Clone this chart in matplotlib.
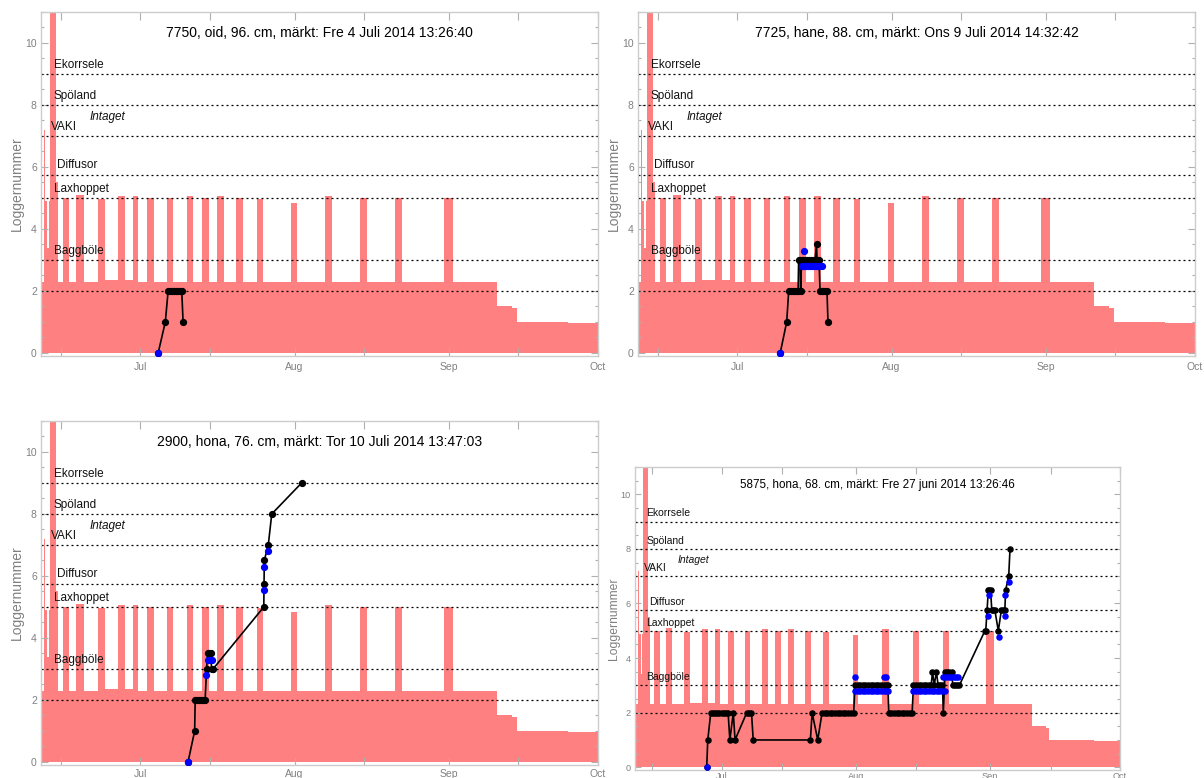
import matplotlib
matplotlib.use("Agg")
import matplotlib.pyplot as plt
import matplotlib.dates as mdates
import numpy as np
import pandas as pd

plt.rcParams['font.family'] = ['Liberation Sans', 'DejaVu Sans']

# all times are days counted from 1 July 2014 00:00
T0 = pd.Timestamp('2014-07-01')

# water level / flow record (step series: value holds from each time to the next)
flow_day = [-20.0, -19.3, -19.1, -18.7, -18.3, -18.1, -16.9, -16.5, -15.5, -14.3,
            -12.9, -11.4, -8.6, -7.2, -4.6, -3.2, -1.6, -0.4, 1.4, 2.8,
            5.4, 6.6, 9.4, 10.6, 12.4, 13.7, 15.3, 16.7, 19.3, 20.7,
            23.5, 24.7, 30.3, 31.5, 37.1, 38.6, 44.2, 45.6, 51.2, 52.6,
            61.0, 62.9, 71.7, 74.8, 75.7, 86.0, 92.0]
flow_val = [2.3, 7.2, 4.9, 3.4, 4.9, 14.0, 5.5, 2.3, 5.0, 2.3,
            5.1, 2.3, 4.95, 2.35, 5.05, 2.35, 5.05, 2.3, 5.0, 2.3,
            5.0, 2.3, 5.05, 2.3, 5.0, 2.3, 5.05, 2.3, 5.0, 2.3,
            4.95, 2.3, 4.85, 2.3, 5.05, 2.3, 5.0, 2.3, 5.0, 2.3,
            5.0, 2.3, 1.5, 1.45, 1.0, 0.98, 0.98]

# logger stations along the river
station_names = ['Baggböle', 'Laxhoppet', 'Diffusor', 'VAKI', 'Spöland', 'Ekorrsele']
station_levels = [3, 5, 5.75, 7, 8, 9]
ref_levels = [2, 3, 5, 5.75, 7, 8, 9]

# fish 7750
title_7750 = '7750, oid, 96. cm, märkt: Fre 4 Juli 2014 13:26:40'
day_7750 = [3.56, 5.0, 5.56, 5.9, 6.3, 6.7, 7.1, 7.5, 7.9, 8.3, 8.57]
log_7750 = [0, 1, 2, 2, 2, 2, 2, 2, 2, 2, 1]
blue_day_7750 = [3.56]
blue_log_7750 = [0]

# fish 7725
title_7725 = '7725, hane, 88. cm, märkt: Ons 9 Juli 2014 14:32:42'
day_7725 = [8.6, 9.9, 10.3, 10.7, 11.1, 11.5, 11.9, 12.2, 12.3, 12.6, 12.7, 12.9,
            13.2, 13.6, 14.0, 14.4, 14.8, 15.2, 15.6, 15.9, 16.0, 16.4, 16.6, 16.9,
            17.2, 17.6, 18.0, 18.2]
log_7725 = [0, 1, 2, 2, 2, 2, 2, 2, 3, 3, 2, 3,
            3, 3, 3, 3, 3, 3, 3, 3.5, 3, 3, 2, 2,
            2, 2, 2, 1]
blue_day_7725 = [8.6, 13.4, 13.0, 13.4, 13.8, 14.2, 14.6, 15.0, 15.4, 15.8, 16.2, 16.6, 16.9]
blue_log_7725 = [0, 3.3, 2.8, 2.8, 2.8, 2.8, 2.8, 2.8, 2.8, 2.8, 2.8, 2.8, 2.8]

# fish 2900
title_2900 = '2900, hona, 76. cm, märkt: Tor 10 Juli 2014 13:47:03'
day_2900 = [9.57, 10.9, 11.0, 11.4, 11.8, 12.2, 12.6, 13.0, 13.3, 13.5, 13.8, 14.1,
            14.3, 14.6, 24.8, 24.85, 24.9, 25.7, 26.4, 32.4]
log_2900 = [0, 1, 2, 2, 2, 2, 2, 2, 3, 3.5, 3.5, 3.5,
            3, 3, 5, 5.75, 6.5, 7, 8, 9]
blue_day_2900 = [9.57, 13.2, 13.5, 14.0, 14.4, 24.85, 24.85, 25.6]
blue_log_2900 = [0, 2.8, 3.3, 3.3, 3.3, 5.55, 6.3, 6.8]

# fish 5875
title_5875 = '5875, hona, 68. cm, märkt: Fre 27 juni 2014 13:26:46'
day_5875 = [-3.44, -3.2, -2.5, -2.0, -1.5, -1.0, -0.5, 0.0, 0.5, 1.0, 1.5,
            1.9, 2.7, 3.1, 5.8, 6.3, 6.9, 7.3, 20.5, 20.9, 22.2, 23.2,
            23.8, 24.4, 25.0, 25.6, 26.2, 26.8, 27.4, 28.0, 28.6, 29.2, 29.8, 30.5,
            30.8, 31.4, 32.0, 32.6, 33.2, 33.8, 34.4, 35.0, 35.6, 36.2, 36.8, 37.4, 38.0, 38.4,
            38.6, 39.2, 39.8, 40.4, 41.0, 41.6, 42.2, 42.8, 43.4, 44.0,
            44.3, 44.9, 45.5, 46.1, 46.7, 47.3, 47.9, 48.4, 48.7, 49.1, 49.6, 50.0,
            50.5, 51.0, 51.2, 51.6, 52.1, 52.6, 53.1, 53.4, 53.9, 54.4, 54.9,
            60.8, 61.0, 61.3, 61.6, 61.8, 62.1, 62.4, 62.7, 63.1, 63.9, 64.6,
            65.0, 65.4, 65.6, 66.3, 66.6]
log_5875 = [0, 1, 2, 2, 2, 2, 2, 2, 2, 2, 2,
            1, 2, 1, 2, 2, 2, 1, 1, 2, 1, 2,
            2, 2, 2, 2, 2, 2, 2, 2, 2, 2, 2, 2,
            3, 3, 3, 3, 3, 3, 3, 3, 3, 3, 3, 3, 3, 3,
            2, 2, 2, 2, 2, 2, 2, 2, 2, 2,
            3, 3, 3, 3, 3, 3, 3, 3, 3.5, 3, 3.5, 3,
            3, 3, 2, 3.5, 3.5, 3.5, 3.5, 3, 3, 3, 3,
            5, 5, 5.75, 6.5, 6.5, 6.5, 5.75, 5.75, 5.75, 5, 5.75,
            5.75, 5.75, 6.5, 7, 8]
blue_day_5875 = [-3.44, 30.9, 37.6, 37.9,
                 30.8, 31.4, 32.0, 32.6, 33.2, 33.8, 34.4, 35.0, 35.6, 36.2, 36.8, 37.4, 38.0, 38.5,
                 44.3, 44.9, 45.5, 46.1, 46.7, 47.3, 47.9, 48.5, 49.1, 49.7, 50.3, 50.9, 51.5,
                 51.2, 51.8, 52.4, 53.0, 53.6, 54.2, 54.6,
                 61.6, 61.7, 64.0, 65.4, 65.5, 66.4]
blue_log_5875 = [0, 3.3, 3.3, 3.3,
                 2.8, 2.8, 2.8, 2.8, 2.8, 2.8, 2.8, 2.8, 2.8, 2.8, 2.8, 2.8, 2.8, 2.8,
                 2.8, 2.8, 2.8, 2.8, 2.8, 2.8, 2.8, 2.8, 2.8, 2.8, 2.8, 2.8, 2.8,
                 3.3, 3.3, 3.3, 3.3, 3.3, 3.3, 3.3,
                 5.55, 6.3, 4.78, 5.55, 6.3, 6.8]


def to_dates(days):
    return T0 + pd.to_timedelta(np.asarray(days, dtype=float), unit='D')


def px_rect(x0, x1, top, bottom):
    W, H = 1204.0, 778.0
    return [x0 / W, 1 - bottom / H, (x1 - x0) / W, (bottom - top) / H]


def draw_panel(ax, title, day, log, blue_day, blue_log, scale=1.0, title_size=10, xpad=4):
    fd = to_dates(flow_day)
    ax.fill_between(fd, 0, flow_val, step='post', color='#ff8080', lw=0, zorder=1)

    for lv in ref_levels:
        ax.axhline(lv, color='black', lw=0.9, ls=(0, (1.6, 2.4)), zorder=2)

    # station names sit just above their lines
    label_day = {'Ekorrsele': -17.4, 'Spöland': -17.4, 'VAKI': -18.0,
                 'Diffusor': -16.8, 'Laxhoppet': -17.4, 'Baggböle': -17.4}
    for name, lv in zip(station_names, station_levels):
        ax.text(to_dates([label_day[name]])[0], lv + 0.3, name, fontsize=8.5 * scale,
                ha='left', va='center', color='#111111', zorder=5)
    ax.text(to_dates([-10.2])[0], 7.6, 'Intaget', fontsize=8.5 * scale, style='italic',
            ha='left', va='center', color='#111111', zorder=5)

    ax.plot(to_dates(day), log, '-o', color='black', lw=1.2, ms=4.2 * scale, zorder=3)
    ax.plot(to_dates(blue_day), blue_log, 'o', color='blue', ms=4.2 * scale, zorder=4)

    ax.text(0.5, 0.94, title, transform=ax.transAxes, ha='center', va='center',
            fontsize=title_size, color='black', zorder=6)

    ax.set_xlim(to_dates([-20])[0], to_dates([92])[0])
    ax.set_ylim(-0.1, 11.0)
    ax.set_yticks([0, 2, 4, 6, 8, 10])
    ax.set_yticks(np.arange(0, 11.01, 0.5), minor=True)
    ax.xaxis.set_major_locator(mdates.MonthLocator())
    ax.xaxis.set_major_formatter(mdates.DateFormatter('%b'))
    ax.xaxis.set_minor_locator(mdates.DayLocator(bymonthday=15))
    ax.tick_params(which='both', direction='in', top=True, right=True,
                   color='#b0b0b0', labelcolor='#808080', labelsize=7.5 * scale, width=0.8)
    ax.tick_params(axis='x', which='both', length=6 * scale, pad=xpad)
    ax.tick_params(axis='y', which='major', length=5 * scale, pad=3)
    ax.tick_params(axis='y', which='minor', length=2.5 * scale)
    for sp in ax.spines.values():
        sp.set_color('#cccccc')
        sp.set_linewidth(1.0)
    ax.set_ylabel('Loggernummer', fontsize=10 * scale, color='#808080')
    ax.yaxis.set_label_coords(-0.031, 0.5)


fig = plt.figure(figsize=(12.04, 7.78), dpi=100)
ax1 = fig.add_axes(px_rect(41, 598, 12, 356))
ax2 = fig.add_axes(px_rect(638, 1195, 12, 356))
ax3 = fig.add_axes(px_rect(41, 598, 421, 765))
ax4 = fig.add_axes(px_rect(635, 1120, 467, 770))

draw_panel(ax1, title_7750, day_7750, log_7750, blue_day_7750, blue_log_7750)
draw_panel(ax2, title_7725, day_7725, log_7725, blue_day_7725, blue_log_7725)
draw_panel(ax3, title_2900, day_2900, log_2900, blue_day_2900, blue_log_2900, xpad=3)
draw_panel(ax4, title_5875, day_5875, log_5875, blue_day_5875, blue_log_5875,
           scale=0.875, title_size=8.4, xpad=1.5)

fig.savefig('out.png', dpi=100)
